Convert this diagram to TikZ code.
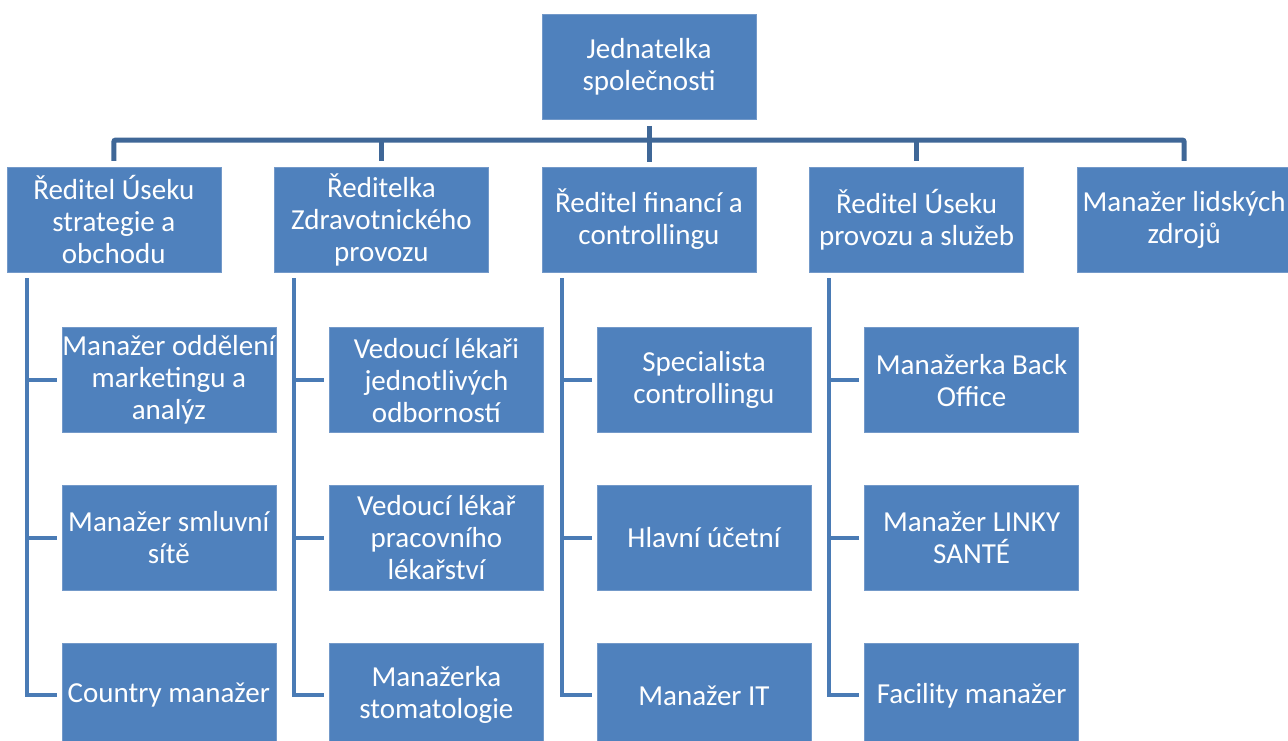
\documentclass[tikz,border=0pt]{standalone}
\usepackage{fontspec}
\setmainfont{Carlito}
\usetikzlibrary{positioning}
\definecolor{boxblue}{HTML}{4F81BD}
\definecolor{boxedge}{HTML}{7399C9}
\definecolor{busblue}{HTML}{3F6797}
\definecolor{hangblue}{HTML}{4A7BB5}
\tikzset{
orgbox/.style={
	  draw=boxedge, fill=boxblue, text=white, line width=0.6pt,
	    minimum width=214pt, minimum height=105pt, inner sep=0pt,
    align=center, font=\fontsize{29}{32}\selectfont},
bus/.style={draw=busblue, line width=5pt, rounded corners=2pt},
hang/.style={draw=hangblue, line width=4pt, shorten >=5pt}
}

\begin{document}
\begin{tikzpicture}[x=1pt, y=-1pt, node distance=53pt]
	\useasboundingbox (0,0) rectangle (1288,740);
	\node[orgbox] (top) at (649,67) {Jednatelka\\společnosti};
	% vedeni
	\node[orgbox, below=47pt of top] (fin) {Ředitel financí a\\controllingu};
	\node[orgbox, left=of fin] (zdrav) {Ředitelka\\Zdravotnického\\provozu};
	\node[orgbox, left=of zdrav] (strat) {Ředitel Úseku\\strategie a\\obchodu};
	\node[orgbox, right=of fin] (prov) {Ředitel Úseku\\provozu a služeb};
	\node[orgbox, right=of prov] (hr) {Manažer lidských\\zdrojů};
	% podrizeni
	\node[orgbox, below=55pt of strat, xshift=55pt] (mark) {Manažer oddělení\\marketingu a\\analýz};
	\node[orgbox, below=52pt of mark] (smlouvy) {Manažer smluvní\\sítě};
	\node[orgbox, below=52pt of smlouvy] (country) {Country manažer};
	\node[orgbox, below=55pt of zdrav, xshift=55pt] (lekari) {Vedoucí lékaři\\jednotlivých\\odborností};
	\node[orgbox, below=52pt of lekari] (pracovni) {Vedoucí lékař\\pracovního\\lékařství};
	\node[orgbox, below=52pt of pracovni] (stoma) {Manažerka\\stomatologie};
	\node[orgbox, below=55pt of fin, xshift=55pt] (control) {Specialista\\controllingu};
	\node[orgbox, below=52pt of control] (ucetni) {Hlavní účetní};
	\node[orgbox, below=52pt of ucetni] (it) {Manažer IT};
	\node[orgbox, below=55pt of prov, xshift=55pt] (back) {Manažerka Back\\Office};
	\node[orgbox, below=52pt of back] (linka) {Manažer LINKY\\SANTÉ};
	\node[orgbox, below=52pt of linka] (facility) {Facility manažer};
	% spojnice
	\coordinate (hub) at (649,140);
	\draw[bus] ([yshift=-6pt]top.south) -- ([yshift=5pt]fin.north);
	\draw[bus] ([yshift=6pt]strat.north) |- (hub) -| ([yshift=6pt]hr.north);
	\draw[bus] (zdrav.north |- hub) -- ([yshift=6pt]zdrav.north);
	\draw[bus] (prov.north |- hub) -- ([yshift=6pt]prov.north);
	\coordinate (strat-h) at ([xshift=20pt, yshift=-6pt]strat.south west);
	\coordinate (zdrav-h) at ([xshift=20pt, yshift=-6pt]zdrav.south west);
	\coordinate (fin-h) at ([xshift=20pt, yshift=-6pt]fin.south west);
	\coordinate (prov-h) at ([xshift=20pt, yshift=-6pt]prov.south west);
	\draw[hang] (strat-h) |- (country.west);
	\draw[hang] (strat-h |- mark.west) -- (mark.west);
	\draw[hang] (strat-h |- smlouvy.west) -- (smlouvy.west);
	\draw[hang] (zdrav-h) |- (stoma.west);
	\draw[hang] (zdrav-h |- lekari.west) -- (lekari.west);
	\draw[hang] (zdrav-h |- pracovni.west) -- (pracovni.west);
	\draw[hang] (fin-h) |- (it.west);
	\draw[hang] (fin-h |- control.west) -- (control.west);
	\draw[hang] (fin-h |- ucetni.west) -- (ucetni.west);
	\draw[hang] (prov-h) |- (facility.west);
	\draw[hang] (prov-h |- back.west) -- (back.west);
	\draw[hang] (prov-h |- linka.west) -- (linka.west);
\end{tikzpicture}
\end{document}
